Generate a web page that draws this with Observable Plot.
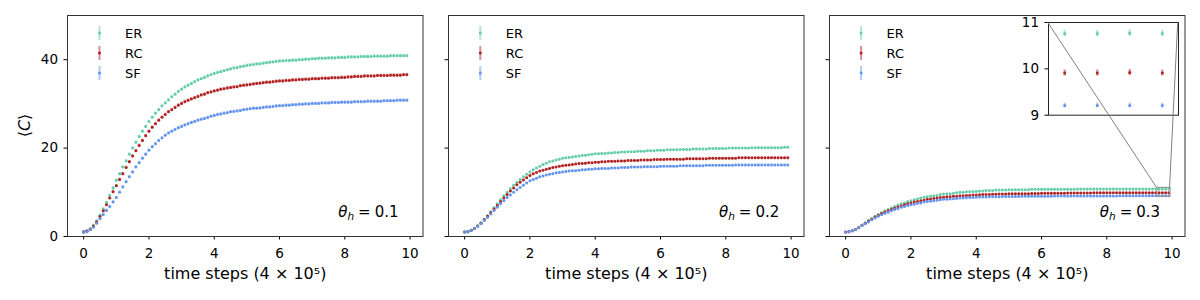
<!DOCTYPE html>
<html><head><meta charset="utf-8">
<script src="https://cdn.jsdelivr.net/npm/d3@7"></script>
<script src="https://cdn.jsdelivr.net/npm/@observablehq/plot@0.6"></script>
<style>
html,body{margin:0;padding:0;background:#fff;}
#root{position:relative;width:1200px;height:300px;overflow:hidden;font-family:"DejaVu Sans",sans-serif;}
#root svg{position:absolute;top:0;overflow:visible;}
</style></head><body><div id="root"></div>
<script>
// ---------- data ----------
const timeSteps = [0,0.1,0.2,0.3,0.4,0.5,0.6,0.7,0.8,0.9,1,1.1,1.2,1.3,1.4,1.5,1.6,1.7,1.8,1.9,2,2.1,2.2,2.3,2.4,2.5,2.6,2.7,2.8,2.9,3,3.1,3.2,3.3,3.4,3.5,3.6,3.7,3.8,3.9,4,4.1,4.2,4.3,4.4,4.5,4.6,4.7,4.8,4.9,5,5.1,5.2,5.3,5.4,5.5,5.6,5.7,5.8,5.9,6,6.1,6.2,6.3,6.4,6.5,6.6,6.7,6.8,6.9,7,7.1,7.2,7.3,7.4,7.5,7.6,7.7,7.8,7.9,8,8.1,8.2,8.3,8.4,8.5,8.6,8.7,8.8,8.9,9,9.1,9.2,9.3,9.4,9.5,9.6,9.7,9.8,9.9];
const seriesNames = ["ER", "RC", "SF"];
const thetaValues = ["0.1", "0.2", "0.3"];
const xTicks = [0, 2, 4, 6, 8, 10];
const yTicks = [0, 20, 40];
const insetYTicks = [9, 10, 11];
const insetXRange = [9.55, 9.95];
const insetYRange = [9, 11];

// theta_h = 0.1
const er1 = [1.0,1.2,1.7,2.5,3.5,4.8,6.2,7.7,9.3,11.0,12.7,14.2,15.7,17.1,18.6,20.0,21.3,22.6,23.8,24.9,26.0,27.0,27.9,28.7,29.5,30.2,30.9,31.6,32.2,32.8,33.3,33.8,34.2,34.6,35.0,35.4,35.7,36.0,36.3,36.6,36.9,37.1,37.3,37.5,37.7,37.9,38.1,38.2,38.4,38.5,38.7,38.8,38.9,39.0,39.1,39.2,39.3,39.4,39.5,39.6,39.7,39.7,39.8,39.8,39.9,39.9,40.0,40.0,40.1,40.1,40.2,40.2,40.3,40.3,40.3,40.4,40.4,40.4,40.5,40.5,40.5,40.6,40.6,40.6,40.6,40.7,40.7,40.7,40.7,40.8,40.8,40.8,40.8,40.8,40.9,40.9,40.9,40.9,40.9,40.9];
const rc1 = [1.0,1.2,1.6,2.3,3.3,4.5,5.8,7.2,8.7,10.1,11.5,12.9,14.2,15.6,16.9,18.2,19.4,20.6,21.7,22.8,23.8,24.7,25.5,26.3,27.0,27.6,28.2,28.7,29.2,29.7,30.1,30.5,30.8,31.1,31.4,31.7,32.0,32.2,32.5,32.7,32.9,33.1,33.3,33.4,33.6,33.7,33.8,33.9,34.1,34.2,34.3,34.4,34.5,34.6,34.7,34.8,34.9,34.9,35.0,35.1,35.2,35.2,35.3,35.3,35.4,35.4,35.5,35.5,35.6,35.6,35.7,35.7,35.7,35.8,35.8,35.8,35.9,35.9,35.9,36.0,36.0,36.1,36.1,36.2,36.2,36.2,36.3,36.3,36.3,36.3,36.4,36.4,36.4,36.4,36.5,36.5,36.5,36.5,36.6,36.6];
const sf1 = [1.0,1.1,1.5,2.1,3.0,4.0,5.0,5.9,6.8,7.8,8.8,10.0,11.2,12.4,13.5,14.6,15.7,16.7,17.7,18.6,19.5,20.3,21.0,21.7,22.3,22.9,23.4,23.8,24.2,24.6,24.9,25.2,25.5,25.8,26.0,26.3,26.5,26.7,26.9,27.2,27.4,27.6,27.7,27.9,28.0,28.2,28.3,28.4,28.5,28.7,28.8,28.9,29.0,29.0,29.1,29.2,29.3,29.3,29.4,29.5,29.6,29.6,29.7,29.7,29.8,29.8,29.9,29.9,30.0,30.0,30.1,30.1,30.1,30.2,30.2,30.2,30.3,30.3,30.3,30.4,30.4,30.4,30.4,30.5,30.5,30.5,30.5,30.6,30.6,30.6,30.6,30.6,30.7,30.7,30.7,30.7,30.8,30.8,30.8,30.8];

// theta_h = 0.2
const er2 = [1.0,1.1,1.4,1.8,2.4,3.1,3.9,4.7,5.6,6.5,7.4,8.3,9.2,10.0,10.8,11.6,12.3,12.9,13.5,14.1,14.6,15.1,15.5,15.9,16.3,16.6,16.9,17.1,17.3,17.5,17.7,17.8,17.9,18.0,18.1,18.2,18.3,18.4,18.5,18.6,18.7,18.7,18.8,18.8,18.9,18.9,19.0,19.0,19.1,19.1,19.2,19.2,19.2,19.3,19.3,19.3,19.4,19.4,19.4,19.5,19.5,19.5,19.6,19.6,19.6,19.6,19.7,19.7,19.7,19.7,19.8,19.8,19.8,19.8,19.8,19.9,19.9,19.9,19.9,19.9,19.9,20.0,20.0,20.0,20.0,20.0,20.0,20.0,20.1,20.1,20.1,20.1,20.1,20.1,20.1,20.1,20.1,20.1,20.2,20.2];
const rc2 = [1.0,1.1,1.4,1.8,2.4,3.0,3.8,4.6,5.4,6.2,7.0,7.9,8.7,9.5,10.3,11.0,11.7,12.3,12.8,13.3,13.8,14.2,14.5,14.8,15.0,15.2,15.4,15.6,15.7,15.9,16.0,16.1,16.2,16.3,16.4,16.5,16.5,16.6,16.7,16.7,16.8,16.8,16.9,16.9,17.0,17.0,17.0,17.1,17.1,17.1,17.2,17.2,17.2,17.2,17.3,17.3,17.3,17.3,17.4,17.4,17.4,17.4,17.5,17.5,17.5,17.5,17.5,17.5,17.6,17.6,17.6,17.6,17.6,17.6,17.6,17.7,17.7,17.7,17.7,17.7,17.7,17.7,17.7,17.7,17.8,17.8,17.8,17.8,17.8,17.8,17.8,17.8,17.8,17.8,17.8,17.8,17.8,17.8,17.8,17.8];
const sf2 = [1.0,1.1,1.4,1.8,2.3,2.9,3.6,4.3,5.1,5.9,6.6,7.4,8.1,8.8,9.4,10.0,10.6,11.1,11.6,12.1,12.6,12.9,13.2,13.5,13.7,13.9,14.1,14.2,14.4,14.5,14.6,14.7,14.8,14.9,14.9,15.0,15.1,15.1,15.2,15.2,15.3,15.3,15.4,15.4,15.4,15.5,15.5,15.5,15.6,15.6,15.6,15.7,15.7,15.7,15.7,15.8,15.8,15.8,15.8,15.8,15.9,15.9,15.9,15.9,15.9,15.9,16.0,16.0,16.0,16.0,16.0,16.0,16.0,16.0,16.1,16.1,16.1,16.1,16.1,16.1,16.1,16.1,16.1,16.2,16.2,16.2,16.2,16.2,16.2,16.2,16.2,16.2,16.2,16.2,16.2,16.2,16.2,16.2,16.2,16.2];

// theta_h = 0.3
const er3 = [1.0,1.1,1.3,1.6,2.1,2.6,3.1,3.6,4.1,4.6,5.0,5.4,5.8,6.1,6.5,6.8,7.1,7.4,7.6,7.9,8.1,8.3,8.5,8.7,8.9,9.0,9.1,9.2,9.3,9.5,9.6,9.7,9.7,9.8,9.9,10.0,10.0,10.1,10.1,10.2,10.2,10.3,10.3,10.4,10.4,10.4,10.5,10.5,10.5,10.5,10.6,10.6,10.6,10.6,10.6,10.6,10.6,10.7,10.7,10.7,10.7,10.7,10.7,10.7,10.7,10.7,10.7,10.7,10.7,10.7,10.7,10.74,10.74,10.74,10.74,10.75,10.75,10.75,10.75,10.75,10.75,10.75,10.75,10.75,10.76,10.76,10.76,10.76,10.76,10.76,10.76,10.76,10.76,10.76,10.76,10.77,10.76,10.76,10.77,10.76];
const rc3 = [1.0,1.1,1.3,1.6,2.0,2.5,3.0,3.5,3.9,4.4,4.8,5.2,5.5,5.8,6.1,6.4,6.7,6.9,7.2,7.4,7.6,7.8,7.9,8.1,8.2,8.4,8.5,8.6,8.7,8.8,8.9,9.0,9.0,9.1,9.1,9.2,9.2,9.3,9.3,9.4,9.4,9.45,9.5,9.5,9.5,9.55,9.55,9.6,9.6,9.6,9.65,9.65,9.65,9.7,9.7,9.7,9.7,9.72,9.74,9.75,9.76,9.77,9.78,9.78,9.79,9.8,9.8,9.81,9.82,9.83,9.84,9.84,9.85,9.85,9.86,9.86,9.87,9.87,9.88,9.88,9.88,9.89,9.89,9.89,9.9,9.9,9.9,9.9,9.9,9.91,9.91,9.91,9.91,9.91,9.91,9.92,9.91,9.91,9.92,9.91];
const sf3 = [1.0,1.1,1.3,1.6,2.0,2.5,2.9,3.3,3.8,4.2,4.6,4.9,5.2,5.5,5.8,6.1,6.3,6.6,6.8,7.0,7.2,7.3,7.5,7.6,7.8,7.9,8.0,8.1,8.2,8.3,8.4,8.45,8.5,8.55,8.6,8.7,8.72,8.75,8.8,8.85,8.9,8.92,8.94,8.96,8.98,9.0,9.01,9.02,9.03,9.04,9.05,9.06,9.07,9.07,9.08,9.08,9.09,9.1,9.1,9.11,9.12,9.12,9.13,9.13,9.14,9.14,9.14,9.15,9.15,9.15,9.16,9.16,9.16,9.17,9.17,9.17,9.18,9.18,9.18,9.18,9.19,9.19,9.19,9.19,9.2,9.2,9.2,9.2,9.2,9.2,9.2,9.21,9.21,9.21,9.21,9.21,9.21,9.21,9.21,9.21];

// error-bar half widths per panel, per series
const errP1 = [0.3, 0.3, 0.3];
const errP2 = [0.15, 0.15, 0.15];
const errP3 = [0.07, 0.065, 0.05];

const panelSeries = [[er1, rc1, sf1], [er2, rc2, sf2], [er3, rc3, sf3]];
const panelErrors = [errP1, errP2, errP3];
const colors = ["mediumaquamarine", "firebrick", "cornflowerblue"];

// ---------- layout ----------
const FW = 355.5, ML = 44, MR = 6, MT = 15, MB = 64, H = 300;
const frameLefts = [67, 447.8, 828.6];
const xDomain = [-0.495, 10.395];
const yDomain = [0, 50];
const FONT = "DejaVu Sans";

const root = document.getElementById("root");

function rowsFor(p) {
  return panelSeries[p].flatMap((vals, k) =>
    vals.map((v, i) => ({t: timeSteps[i], v, s: seriesNames[k], e: panelErrors[p][k]})));
}

const charts = [];
for (let p = 0; p < 3; p++) {
  const data = rowsFor(p);
  const chart = Plot.plot({
    width: ML + FW + MR, height: H,
    marginLeft: ML, marginRight: MR, marginTop: MT, marginBottom: MB,
    style: {fontFamily: FONT, fontSize: "13px", background: "transparent", color: "#000"},
    x: {domain: xDomain},
    y: {domain: yDomain},
    color: {domain: seriesNames, range: colors},
    marks: [
      Plot.ruleX(data, {x: "t", y1: d => d.v - d.e, y2: d => d.v + d.e, stroke: "s", strokeOpacity: 0.45, strokeWidth: 2.5}),
      Plot.dot(data, {x: "t", y: "v", fill: "s", r: 1.5}),
      Plot.axisX({ticks: xTicks, tickSize: 3.5, tickPadding: 8, label: null, fontSize: 13.5, stroke: "#000"}),
      Plot.axisY({ticks: yTicks, tickSize: 3.5, tickPadding: 6, label: null, fontSize: 13.5,
        tickFormat: p === 0 ? (d => String(d)) : (() => "")}),
      Plot.text(["time steps (4 × 10⁵)"], {frameAnchor: "bottom", dy: 37, text: d => d, fontSize: 16, lineAnchor: "middle"}),
      Plot.frame({stroke: "#333", strokeWidth: 1}),
      p === 2 ? Plot.rect([{x1: insetXRange[0], x2: insetXRange[1], y1: insetYRange[0], y2: insetYRange[1]}],
        {x1: "x1", x2: "x2", y1: "y1", y2: "y2", fill: "none", stroke: "#999", strokeWidth: 1.2}) : null
    ]
  });
  chart.style.left = (frameLefts[p] - ML) + "px";
  root.appendChild(chart);
  charts.push(chart);
}

// ---------- inset ----------
const IML = 30, IMR = 2, IMT = 2, IMB = 2;
const insetLeft = 1047.7, insetTop = 22.3, insetW = 130, insetH = 92.7;
const insetData = rowsFor(2).filter(d => d.t >= insetXRange[0] && d.t <= insetXRange[1]);
const inset = Plot.plot({
  width: IML + insetW + IMR, height: IMT + insetH + IMB,
  marginLeft: IML, marginRight: IMR, marginTop: IMT, marginBottom: IMB,
  style: {fontFamily: FONT, fontSize: "13px", background: "transparent", color: "#000"},
  x: {domain: insetXRange, axis: null},
  y: {domain: insetYRange},
  color: {domain: seriesNames, range: colors},
  marks: [
    Plot.frame({fill: "white"}),
    Plot.ruleX(insetData, {x: "t", y1: d => d.v - d.e, y2: d => d.v + d.e, stroke: "s", strokeOpacity: 0.45, strokeWidth: 2.5}),
    Plot.dot(insetData, {x: "t", y: "v", fill: "s", r: 1.5}),
    Plot.axisY({ticks: insetYTicks, tickSize: 3.5, tickPadding: 6, label: null, fontSize: 13.5, tickFormat: d => String(d)}),
    Plot.frame({stroke: "#222", strokeWidth: 1})
  ]
});
const insetSvgLeft = insetLeft - IML, insetSvgTop = insetTop - IMT;
inset.style.left = insetSvgLeft + "px";
inset.style.top = insetSvgTop + "px";
root.appendChild(inset);

// ---------- overlay: labels, legends, connectors ----------
const ov = d3.select(root).append("svg")
  .attr("width", 1200).attr("height", 300)
  .style("left", "0px").style("top", "0px").style("pointer-events", "none")
  .attr("font-family", FONT);

// y label
const yl = ov.append("text")
  .attr("transform", "translate(23.5,125.5) rotate(-90)")
  .attr("text-anchor", "middle").attr("dominant-baseline", "central").attr("font-size", 16);
yl.append("tspan").text("⟨");
yl.append("tspan").attr("font-style", "italic").text("C");
yl.append("tspan").text("⟩");

for (let p = 0; p < 3; p++) {
  const fl = frameLefts[p], fr = fl + FW;
  // theta label
  const t = ov.append("text").attr("x", fr - 24).attr("y", 217).attr("text-anchor", "end").attr("font-size", 15);
  t.append("tspan").attr("font-style", "italic").text("θ");
  t.append("tspan").attr("font-style", "italic").attr("font-size", 10.5).attr("dy", 3).text("h");
  t.append("tspan").attr("dy", -3).attr("dx", 4).text("=");
  t.append("tspan").attr("dx", 4).text(thetaValues[p]);
  // legend
  seriesNames.forEach((s, k) => {
    const y = 33 + 20 * k, gx = fl + 32.5;
    ov.append("line").attr("x1", gx).attr("x2", gx).attr("y1", y - 7).attr("y2", y + 7)
      .attr("stroke", colors[k]).attr("stroke-opacity", 0.5).attr("stroke-width", 2);
    ov.append("circle").attr("cx", gx).attr("cy", y).attr("r", 1.5).attr("fill", colors[k]);
    ov.append("text").attr("x", fl + 58).attr("y", y).attr("dominant-baseline", "central")
      .attr("font-size", 13).text(s);
  });
}

// connectors from inset top corners to zoom box top corners
const sx3 = charts[2].scale("x"), sy3 = charts[2].scale("y");
const ix = inset.scale("x"), iy = inset.scale("y");
const mainOff = frameLefts[2] - ML;
[insetXRange[0], insetXRange[1]].forEach(xv => {
  ov.append("line")
    .attr("x1", insetSvgLeft + ix.apply(xv)).attr("y1", insetSvgTop + iy.apply(insetYRange[1]))
    .attr("x2", mainOff + sx3.apply(xv)).attr("y2", sy3.apply(insetYRange[1]))
    .attr("stroke", "#808080").attr("stroke-width", 1);
});
</script></body></html>
